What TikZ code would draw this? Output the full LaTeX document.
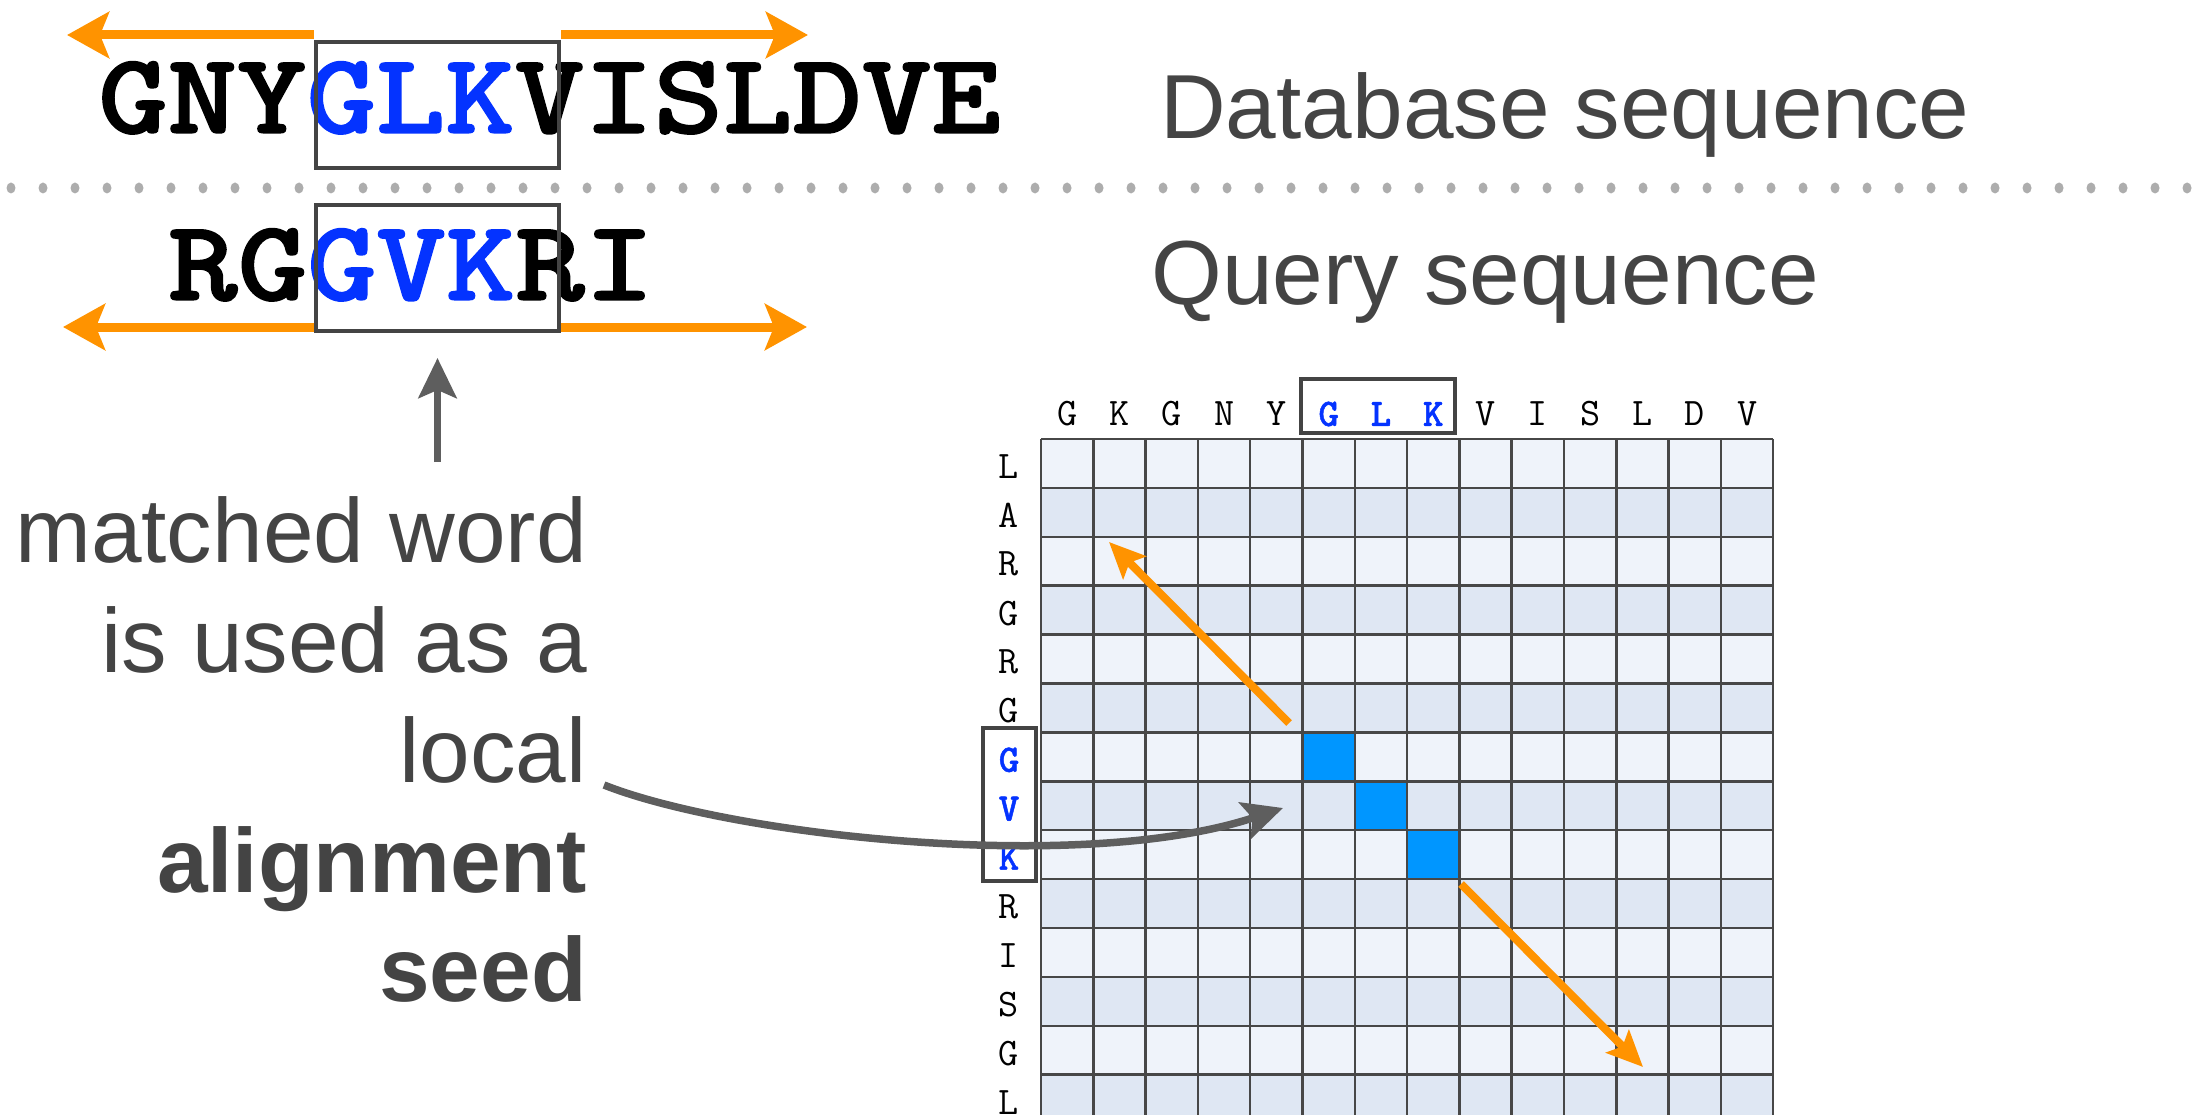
\documentclass[tikz,border=0pt]{standalone}
\usepackage{fontspec}
\setmainfont{Liberation Sans}
\newfontfamily\seqbold[FakeBold=1.2]{lmmonolt10-bold.otf}
\usetikzlibrary{
  arrows.meta,
  positioning
}
\definecolor{sqorange}{HTML}{FF9300}
\definecolor{sqblue}{HTML}{0433FF}
\definecolor{sqcell}{HTML}{0096FF}
\definecolor{sqdark}{HTML}{444444}
\definecolor{sqgray}{HTML}{5E5E5E}
\definecolor{sqdots}{HTML}{ADADAD}
\definecolor{sqlight}{HTML}{EFF3FA}
\definecolor{sqpale}{HTML}{DFE7F3}
\definecolor{sqline}{HTML}{474747}

\begin{document}
\begin{tikzpicture}[x=1pt, y=-1pt,
      seq/.style={inner sep=0pt, anchor=base west,
        font=\fontsize{115}{115}\selectfont\seqbold},
      wordbox/.style={draw=sqdark, line width=4pt, inner sep=0pt,
        minimum width=243pt, minimum height=126pt},
      seedbox/.style={draw=sqdark, line width=4pt, inner sep=0pt},
      ext/.style={-{Stealth[length=42pt, width=46pt, inset=9pt]}, line width=9pt, sqorange},
      diag/.style={-{Stealth[length=36pt, width=32pt, inset=7pt]}, line width=8pt, sqorange},
      pointer/.style={-{Stealth[length=40pt, width=38pt, inset=8pt]}, line width=7.5pt, sqgray},
      heading/.style={inner sep=0pt, anchor=base west,
        font=\fontsize{91}{91}\selectfont, text=sqdark},
      note/.style={inner sep=0pt, anchor=base east,
        font=\fontsize{91}{91}\selectfont, text=sqdark},
      aa/.style={inner sep=0pt, font=\fontsize{39}{39}\selectfont\ttfamily},
      hit/.style={inner sep=0pt, font=\fontsize{39}{39}\selectfont\seqbold, text=sqblue},
      gridline/.style={line width=2.5pt, sqline}
    ]
      \useasboundingbox (0,0) rectangle (2192,1115);
      \clip (0,0) rectangle (2192,1115);

      % Sequences
      \node[seq] (db) at (98,133) {\scalebox{1.15}[1]{GNY\textcolor{sqblue}{GLK}VISLDVE}};
      \node[seq] (qs) at (168,300) {\scalebox{1.15}[1]{RG\textcolor{sqblue}{GVK}RI}};
      \node[wordbox] (dbbox) at (437.5,105) {};
      \node[wordbox] (qbox) at (437.5,268) {};

      % Extension arrows
      \coordinate (dbL) at (67,35);
      \coordinate (dbR) at (808,35);
      \coordinate (qL) at (63,327);
      \coordinate (qR) at (807,327);
      \draw[ext] (dbbox.north west |- dbL) -- (dbL);
      \draw[ext] (dbbox.north east |- dbR) -- (dbR);
      \draw[ext] (qbox.south west |- qL) -- (qL);
      \draw[ext] (qbox.south east |- qR) -- (qR);

      % Separator
      \foreach \k in {0,...,68}
        \fill[sqdots] ({11+32*\k},188) ellipse (4.5 and 5.5);

      % Titles
      \node[heading] (dbtitle) at (1160,139) {Database sequence};
      \node[heading] (qtitle) at (1151,305) {Query sequence};

      % Explanation
      \node[note] (n1) at (587,562) {matched word};
      \node[note] (n2) at ([yshift=-110pt]n1.base east) {is used as a};
      \node[note] (n3) at ([yshift=-110pt]n2.base east) {local};
      \node[note] (n4) at ([yshift=-110pt]n3.base east) {\bfseries alignment};
      \node[note] (n5) at ([yshift=-109pt]n4.base east) {\bfseries seed};

      % Dot plot
      \foreach \j in {1,...,14}{
        \ifodd\j \def\rowfill{sqlight}\else \def\rowfill{sqpale}\fi
        \fill[\rowfill] (1041,{439+48.9*(\j-1)}) rectangle (1773,{439+48.9*\j});
      }
      \foreach \i/\j in {6/7,7/8,8/9}
        \fill[sqcell] ({1041+52.3*(\i-1)},{439+48.9*(\j-1)}) rectangle ++(52.3,48.9);
      \foreach \i in {0,...,14}
        \draw[gridline] ({1041+52.3*\i},439) -- ({1041+52.3*\i},1124);
      \foreach \j in {0,...,14}
        \draw[gridline] (1041,{439+48.9*\j}) -- (1773,{439+48.9*\j});

      \foreach \l/\s [count=\i] in {G/aa,K/aa,G/aa,N/aa,Y/aa,G/hit,L/hit,K/hit,V/aa,I/aa,S/aa,L/aa,D/aa,V/aa}
        \node[\s] (h\i) at ({1041+52.3*(\i-0.5)},414) {\l};
      \foreach \l/\s [count=\j] in {L/aa,A/aa,R/aa,G/aa,R/aa,G/aa,G/hit,V/hit,K/hit,R/aa,I/aa,S/aa,G/aa,L/aa}
        \node[\s] (r\j) at (1009,{439+48.9*(\j-0.5)+3}) {\l};
      \node[seedbox, minimum width=154pt, minimum height=54pt] (hbox) at (1378,406) {};
      \node[seedbox, minimum width=53pt, minimum height=153pt] (rbox) at (1009.5,804.5) {};

      % Extension in the plot
      \coordinate (upA) at (1289,723);
      \coordinate (upB) at (1109,542);
      \coordinate (dnA) at (1461,884);
      \coordinate (dnB) at (1643,1067);
      \draw[diag] (upA) -- (upB);
      \draw[diag] (dnA) -- (dnB);

      % Pointers
      \coordinate (upfoot) at (437.5,462);
      \draw[pointer] (upfoot) -- ([yshift=-25pt]qbox.south);
      \coordinate (seedtip) at (1283,808);
      \draw[pointer] ([xshift=17pt, yshift=-3pt]n3.base east)
        .. controls (730,835) and (1080,875) .. (seedtip);
    \end{tikzpicture}
\end{document}
